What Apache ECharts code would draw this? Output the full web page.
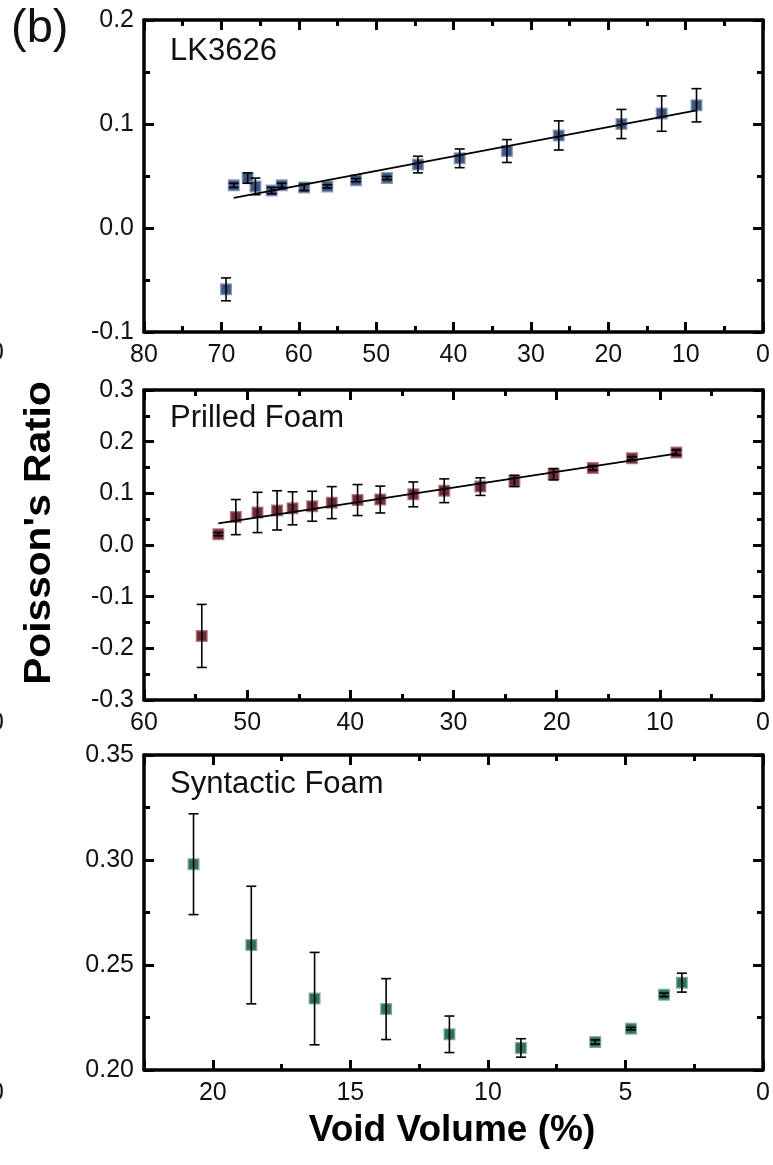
<!DOCTYPE html>
<html><head><meta charset="utf-8">
<script src="https://cdn.jsdelivr.net/npm/echarts@6/dist/echarts.min.js"></script>
<style>html,body{margin:0;padding:0;background:#fff}#c{width:773px;height:1165px}</style>
</head><body><div id="c"></div>
<script>
// ---------- Data ----------
// Panel 1: LK3626
const lkX   = [69.4, 68.4, 66.6, 65.6, 63.5, 62.2, 59.3, 56.3, 52.6, 48.6, 44.6, 39.2, 33.1, 26.4, 18.3, 13.1, 8.6];
const lkY   = [-0.059, 0.041, 0.048, 0.040, 0.036, 0.041, 0.039, 0.040, 0.046, 0.048, 0.061, 0.067, 0.074, 0.089, 0.100, 0.110, 0.118];
const lkErr = [0.011, 0.002, 0.005, 0.008, 0.003, 0.002, 0.003, 0.0015, 0.0015, 0.0015, 0.008, 0.009, 0.011, 0.014, 0.014, 0.017, 0.016];
const lkFitX = [68.4, 8.6];
const lkFitY = [0.029, 0.113];
const lkXTicks = [0, 10, 20, 30, 40, 50, 60, 70, 80];
const lkYTicks = [-0.1, 0.0, 0.1, 0.2];

// Panel 2: Prilled Foam
const pfX   = [54.4, 52.8, 51.1, 49.0, 47.1, 45.6, 43.7, 41.8, 39.3, 37.1, 33.9, 30.9, 27.4, 24.1, 20.3, 16.5, 12.7, 8.4];
const pfY   = [-0.176, 0.021, 0.054, 0.063, 0.067, 0.071, 0.075, 0.082, 0.087, 0.088, 0.098, 0.105, 0.113, 0.124, 0.137, 0.149, 0.168, 0.179];
const pfErr = [0.061, 0.003, 0.034, 0.039, 0.038, 0.032, 0.029, 0.031, 0.030, 0.026, 0.024, 0.023, 0.017, 0.011, 0.011, 0.004, 0.003, 0.005];
const pfFitX = [52.8, 8.4];
const pfFitY = [0.042, 0.177];
const pfXTicks = [0, 10, 20, 30, 40, 50, 60];
const pfYTicks = [-0.3, -0.2, -0.1, 0.0, 0.1, 0.2, 0.3];

// Panel 3: Syntactic Foam
const sfX   = [20.7, 18.6, 16.3, 13.7, 11.4, 8.8, 6.1, 4.8, 3.6, 2.95];
const sfY   = [0.298, 0.2595, 0.234, 0.229, 0.217, 0.2105, 0.2133, 0.2197, 0.2358, 0.2416];
const sfErr = [0.024, 0.028, 0.022, 0.0145, 0.0087, 0.0044, 0.001, 0.0006, 0.0008, 0.0045];
const sfXTicks = [0, 5, 10, 15, 20];
const sfXMinorStep = 2.5;
const sfXMax = 22.5;
const sfYTicks = [0.20, 0.25, 0.30, 0.35];

const FONT = "'Liberation Sans', Arial, sans-serif";
const LINE = { color: '#000', width: 3.5 };
const TICK = { color: '#000', width: 3 };

// ---------- Helpers ----------
function xAxes(grid, ticks, max, labelFmt, minorStep) {
  const interval = ticks[1] - ticks[0];
  const base = {
    type: 'value', gridIndex: grid, min: ticks[0], max: max, interval: interval, inverse: true,
    splitLine: { show: false },
    axisLine: { show: true, onZero: false, lineStyle: LINE },
    axisTick: { show: true, inside: true, length: 10, lineStyle: TICK },
    minorTick: { show: !minorStep, splitNumber: 2, length: 6, lineStyle: TICK }
  };
  const axes = [
    Object.assign({}, base, { position: 'bottom',
      axisLabel: { show: true, margin: 11, fontSize: 25, color: '#111', fontFamily: FONT, formatter: labelFmt } }),
    Object.assign({}, base, { position: 'top', axisLabel: { show: false } })
  ];
  if (minorStep) {
    ['bottom', 'top'].forEach(pos => axes.push({
      type: 'value', gridIndex: grid, min: ticks[0], max: max, interval: minorStep, inverse: true, position: pos,
      splitLine: { show: false }, axisLabel: { show: false },
      axisLine: { show: false, onZero: false },
      axisTick: { show: true, inside: true, length: 6, lineStyle: TICK }
    }));
  }
  return axes;
}
function yAxes(grid, ticks, dec) {
  const interval = +(ticks[1] - ticks[0]).toFixed(6);
  const base = {
    type: 'value', gridIndex: grid, min: ticks[0], max: ticks[ticks.length - 1], interval: interval,
    splitLine: { show: false },
    axisLine: { show: true, onZero: false, lineStyle: LINE },
    axisTick: { show: true, inside: true, length: 10, lineStyle: TICK },
    minorTick: { show: true, splitNumber: 2, length: 6, lineStyle: TICK }
  };
  return [
    Object.assign({}, base, { position: 'left',
      axisLabel: { show: true, margin: 10, fontSize: 25, color: '#111', fontFamily: FONT,
        formatter: v => (Math.abs(v) < 1e-9 ? 0 : v).toFixed(dec) } }),
    Object.assign({}, base, { position: 'right', axisLabel: { show: false } })
  ];
}
function errRender(params, api) {
  const x = api.value(0), y = api.value(1), e = api.value(2);
  const t = api.coord([x, y + e]);
  const b = api.coord([x, y - e]);
  const hw = 5;
  const style = { stroke: '#000', lineWidth: 1.6 };
  return { type: 'group', children: [
    { type: 'line', shape: { x1: t[0], y1: t[1], x2: b[0], y2: b[1] }, style: style },
    { type: 'line', shape: { x1: t[0] - hw, y1: t[1], x2: t[0] + hw, y2: t[1] }, style: style },
    { type: 'line', shape: { x1: b[0] - hw, y1: b[1], x2: b[0] + hw, y2: b[1] }, style: style }
  ] };
}
function panelSeries(xi, yi, xs, ys, errs, color, border, fitX, fitY) {
  const out = [
    { type: 'scatter', xAxisIndex: xi, yAxisIndex: yi, symbol: 'rect', symbolSize: 10.5, z: 2,
      itemStyle: { color: color, borderColor: border, borderWidth: 1.5, opacity: 1 },
      data: xs.map((x, i) => [x, ys[i]]) },
    { type: 'custom', xAxisIndex: xi, yAxisIndex: yi, z: 4, renderItem: errRender,
      encode: { x: 0, y: 1 }, data: xs.map((x, i) => [x, ys[i], errs[i]]) }
  ];
  if (fitX) {
    out.push({ type: 'line', xAxisIndex: xi, yAxisIndex: yi, z: 3, showSymbol: false, symbol: 'none',
      lineStyle: { color: '#000', width: 1.8 }, data: fitX.map((x, i) => [x, fitY[i]]) });
  }
  return out;
}

const fmtInt = v => String(v);
const fmt5 = v => (Math.abs(v % 5) < 1e-9 ? String(v) : '');

const option = {
  animation: false,
  backgroundColor: '#fff',
  grid: [
    { left: 144, right: 7, top: 20, height: 312 },
    { left: 144, right: 7, top: 390, height: 310 },
    { left: 144, right: 7, top: 755, height: 315 }
  ],
  xAxis: [].concat(
    xAxes(0, lkXTicks, lkXTicks[lkXTicks.length - 1], fmtInt),
    xAxes(1, pfXTicks, pfXTicks[pfXTicks.length - 1], fmtInt),
    xAxes(2, sfXTicks, sfXMax, fmt5, sfXMinorStep)
  ),
  yAxis: [].concat(
    yAxes(0, lkYTicks, 1),
    yAxes(1, pfYTicks, 1),
    yAxes(2, sfYTicks, 2)
  ),
  series: [].concat(
    panelSeries(0, 0, lkX, lkY, lkErr, '#3d5580', 'rgba(125,145,180,0.85)', lkFitX, lkFitY),
    panelSeries(2, 2, pfX, pfY, pfErr, '#6e2a36', 'rgba(165,105,115,0.85)', pfFitX, pfFitY),
    panelSeries(4, 4, sfX, sfY, sfErr, '#2f6e58', 'rgba(115,165,145,0.85)', null, null)
  ),
  graphic: [
    { type: 'text', left: 11, top: 6, style: { text: '(b)', font: '47px ' + FONT, fill: '#111' } },
    { type: 'text', x: 170, y: 51, style: { text: 'LK3626', font: '31px ' + FONT, fill: '#111', textVerticalAlign: 'middle' } },
    { type: 'text', x: 170, y: 418, style: { text: 'Prilled Foam', font: '31px ' + FONT, fill: '#111', textVerticalAlign: 'middle' } },
    { type: 'text', x: 170, y: 784, style: { text: 'Syntactic Foam', font: '31px ' + FONT, fill: '#111', textVerticalAlign: 'middle' } },
    { type: 'text', x: 40, y: 533, rotation: Math.PI / 2, scaleX: 1.13,
      style: { text: "Poisson's Ratio", font: 'bold 36px ' + FONT, fill: '#000', textAlign: 'center', textVerticalAlign: 'middle' } },
    { type: 'text', x: 452, y: 1131,
      style: { text: 'Void Volume (%)', font: 'bold 37px ' + FONT, fill: '#000', textAlign: 'center', textVerticalAlign: 'middle' } },
    { type: 'text', x: -3, y: 353, style: { text: '0', font: '25px ' + FONT, fill: '#111', textAlign: 'center', textVerticalAlign: 'middle' } },
    { type: 'text', x: -3, y: 723, style: { text: '0', font: '25px ' + FONT, fill: '#111', textAlign: 'center', textVerticalAlign: 'middle' } },
    { type: 'text', x: -3, y: 1093, style: { text: '0', font: '25px ' + FONT, fill: '#111', textAlign: 'center', textVerticalAlign: 'middle' } }
  ]
};
const chart = echarts.init(document.getElementById('c'), null, { renderer: 'canvas' });
chart.setOption(option);
</script>
</body></html>
